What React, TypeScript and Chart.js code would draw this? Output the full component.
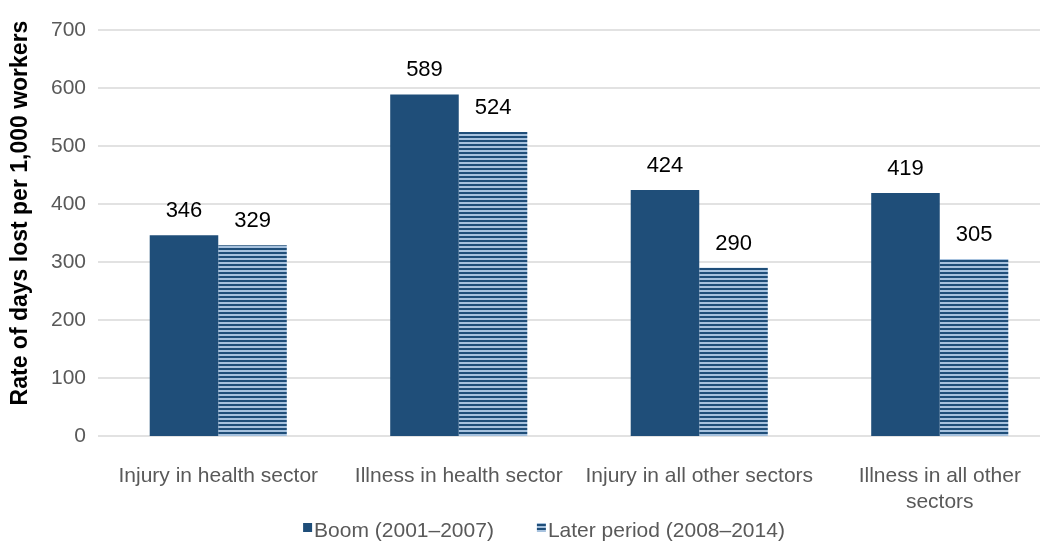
import React, { useEffect, useRef } from "react";
import { Chart, registerables } from "chart.js";

Chart.register(...registerables);

const categories: (string | string[])[] = [
  "Injury in health sector",
  "Illness in health sector",
  "Injury in all other sectors",
  ["Illness in all other", "sectors"],
];
const boomValues = [346, 589, 424, 419];
const laterValues = [329, 524, 290, 305];
const seriesNames = ["Boom (2001\u20132007)", "Later period (2008\u20132014)"];
const yTicks = [0, 100, 200, 300, 400, 500, 600, 700];
const yTitle = "Rate of days lost per 1,000 workers";

const DARK = "#1f4e79";
const LIGHT = "#a7c2de";
const GRID = "#d9d9d9";
const FONT = "'Liberation Sans', Arial, sans-serif";
const GRID_RIGHT = 1040;
const CATEGORY_RIGHT = 1060;

function makePattern(ctx: CanvasRenderingContext2D) {
  const c = document.createElement("canvas");
  c.width = 4;
  c.height = 4;
  const p = c.getContext("2d")!;
  p.fillStyle = LIGHT;
  p.fillRect(0, 0, 4, 4);
  p.fillStyle = DARK;
  p.fillRect(0, 0, 4, 2);
  return ctx.createPattern(c, "repeat")!;
}

const widenPlugin = {
  id: "widenX",
  afterLayout(chart: any) {
    const x = chart.scales.x;
    x.right = CATEGORY_RIGHT;
    x.width = x.right - x.left;
    x.configure();
  },
};

const gridPlugin = {
  id: "customGrid",
  beforeDatasetsDraw(chart: any) {
    const ctx = chart.ctx;
    const y = chart.scales.y;
    const left = chart.chartArea.left;
    ctx.save();
    ctx.strokeStyle = GRID;
    ctx.lineWidth = 1.5;
    yTicks.forEach((v) => {
      const py = y.getPixelForValue(v);
      ctx.beginPath();
      ctx.moveTo(left, py);
      ctx.lineTo(GRID_RIGHT, py);
      ctx.stroke();
    });
    ctx.restore();
  },
};

const labelPlugin = {
  id: "valueLabels",
  afterDatasetsDraw(chart: any) {
    const ctx = chart.ctx;
    ctx.save();
    ctx.font = "22px " + FONT;
    ctx.fillStyle = "#000000";
    ctx.textAlign = "center";
    ctx.textBaseline = "middle";
    chart.data.datasets.forEach((ds: any, i: number) => {
      const meta = chart.getDatasetMeta(i);
      meta.data.forEach((bar: any, j: number) => {
        ctx.fillText(String(ds.data[j]), bar.x, bar.y - 24);
      });
    });
    ctx.restore();
  },
};

const titleLegendPlugin = {
  id: "titleLegend",
  afterDraw(chart: any) {
    const ctx = chart.ctx;
    ctx.save();
    ctx.font = "bold 23px " + FONT;
    ctx.fillStyle = "#000000";
    ctx.textAlign = "center";
    ctx.textBaseline = "middle";
    ctx.translate(21, 213);
    ctx.rotate(-Math.PI / 2);
    ctx.fillText(yTitle, 0, 0);
    ctx.restore();

    ctx.save();
    ctx.font = "21px " + FONT;
    ctx.textBaseline = "middle";
    ctx.textAlign = "left";
    const box = 9;
    const gapBoxText = 2;
    const gapItems = 43;
    const items = chart.data.datasets.map((ds: any) => ({
      label: ds.label,
      fill: ds.backgroundColor,
      w: ctx.measureText(ds.label).width,
    }));
    const total =
      items.reduce((s: number, it: any) => s + box + gapBoxText + it.w, 0) +
      gapItems * (items.length - 1);
    let x = 544 - total / 2;
    const textY = 531;
    items.forEach((it: any) => {
      ctx.fillStyle = it.fill;
      ctx.fillRect(x, 523, box, box);
      x += box + gapBoxText;
      ctx.fillStyle = "#595959";
      ctx.fillText(it.label, x, textY);
      x += it.w + gapItems;
    });
    ctx.restore();
  },
};

export default function App() {
  const ref = useRef<HTMLCanvasElement>(null);
  useEffect(() => {
    document.body.style.margin = "0";
    const canvas = ref.current!;
    const ctx = canvas.getContext("2d")!;
    const pattern = makePattern(ctx);
    const chart = new Chart(canvas, {
      type: "bar",
      data: {
        labels: categories,
        datasets: [
          {
            label: seriesNames[0],
            data: boomValues,
            backgroundColor: DARK,
            borderWidth: 0,
            categoryPercentage: 0.57,
            barPercentage: 1,
          },
          {
            label: seriesNames[1],
            data: laterValues,
            backgroundColor: pattern,
            borderWidth: 0,
            categoryPercentage: 0.57,
            barPercentage: 1,
          },
        ],
      },
      options: {
        animation: false,
        responsive: false,
        maintainAspectRatio: false,
        layout: { padding: { left: 0, right: 0, top: 30, bottom: 0 } },
        plugins: {
          legend: { display: false },
          tooltip: { enabled: false },
        },
        scales: {
          x: {
            grid: { display: false, drawTicks: false },
            border: { display: false },
            afterFit: (axis: any) => {
              axis.height = 108;
            },
            ticks: {
              color: "#595959",
              font: { family: FONT, size: 21 },
              maxRotation: 0,
              autoSkip: false,
              padding: 28,
            },
          },
          y: {
            min: 0,
            max: 700,
            afterBuildTicks: (axis: any) => {
              axis.ticks = yTicks.map((v) => ({ value: v }));
            },
            afterFit: (axis: any) => {
              axis.width = 98;
            },
            grid: { display: false, drawTicks: false },
            border: { display: false },
            ticks: {
              color: "#595959",
              font: { family: FONT, size: 21 },
              padding: 12,
            },
          },
        },
      },
      plugins: [widenPlugin, gridPlugin, labelPlugin, titleLegendPlugin],
    });
    return () => chart.destroy();
  }, []);
  return (
    <div style={{ width: 1048, height: 544 }}>
      <canvas ref={ref} width={1048} height={544} />
    </div>
  );
}
